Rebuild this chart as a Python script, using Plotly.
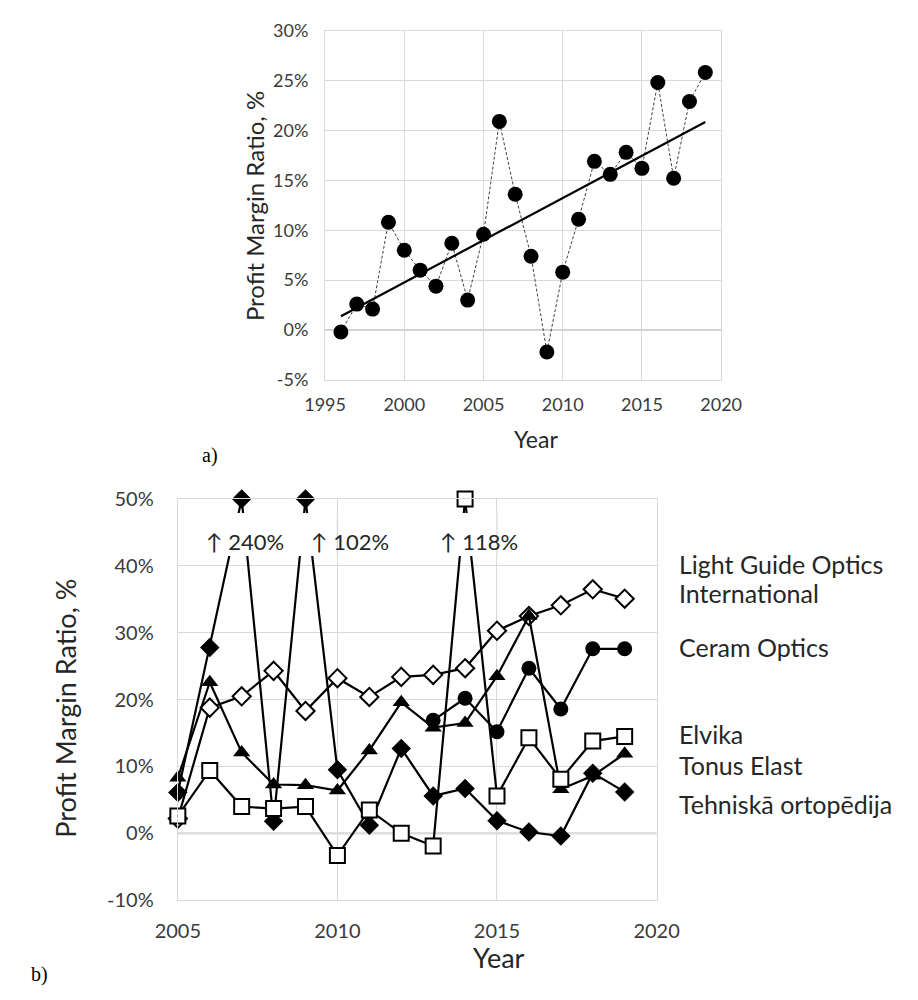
import numpy as np
import plotly.graph_objects as go

# ---------------- data: panel a ----------------
years_a = list(range(1996, 2020))
margin_a = [-0.2, 2.6, 2.1, 10.8, 8.0, 6.0, 4.4, 8.7, 3.0, 9.6, 20.9, 13.6,
            7.4, -2.2, 5.8, 11.1, 16.9, 15.6, 17.8, 16.2, 24.8, 15.2, 22.9, 25.8]
yticks_a = [-5, 0, 5, 10, 15, 20, 25, 30]
yticklabels_a = ["-5%", "0%", "5%", "10%", "15%", "20%", "25%", "30%"]

# ---------------- data: panel b ----------------
years_b = list(range(2005, 2020))
light_guide = [2.2, 18.8, 20.5, 24.3, 18.3, 23.2, 20.4, 23.4, 23.7, 24.7, 30.3, 32.5, 34.1, 36.5, 35.1]
ceram_years = list(range(2013, 2020))
ceram = [16.9, 20.2, 15.2, 24.7, 18.6, 27.6, 27.6]
elvika = [2.6, 9.4, 4.0, 3.7, 4.0, -3.3, 3.5, 0.0, -1.9, 118.0, 5.6, 14.3, 8.1, 13.8, 14.5]
tonus = [8.3, 22.6, 12.1, 7.3, 7.2, 6.4, 12.4, 19.6, 15.8, 16.5, 23.5, 32.5, 6.6, 8.6, 11.9]
tehniska = [6.1, 27.8, 240.0, 1.8, 102.0, 9.5, 1.2, 12.7, 5.6, 6.7, 1.9, 0.2, -0.4, 9.0, 6.2]
yticks_b = [-10, 0, 10, 20, 30, 40, 50]
yticklabels_b = ["-10%", "0%", "10%", "20%", "30%", "40%", "50%"]

name_lines_b = ["Light Guide Optics", "International", "Ceram Optics", "Elvika",
                "Tonus Elast", "Tehniskā ortopēdija"]
spike_labels = ["↑ 240%", "↑ 102%", "↑ 118%"]

Y_MAX_B = 50

W, H = 918, 1000
FONT = "Lato"
TXT = "#3a3a3a"
TTL = "#262626"
GRID = "#d9d9d9"


def px_x(p):
    return p / W


def px_y(p):
    return 1 - p / H


def clip(vals):
    return [min(v, Y_MAX_B) for v in vals]


fig = go.Figure()

# ---- panel a traces ----
fig.add_trace(go.Scatter(
    x=years_a, y=margin_a, mode="lines+markers",
    line=dict(color="#404040", width=1, dash="3px,2px"),
    marker=dict(symbol="circle", size=15, color="black"),
    xaxis="x", yaxis="y", showlegend=False, cliponaxis=False))

slope, intercept = np.polyfit(years_a, margin_a, 1)
trend_x = [years_a[0], years_a[-1]]
trend_y = [slope * x + intercept for x in trend_x]
fig.add_trace(go.Scatter(
    x=trend_x, y=trend_y, mode="lines",
    line=dict(color="black", width=2.2),
    xaxis="x", yaxis="y", showlegend=False))

# ---- panel b traces ----
common_line = dict(color="black", width=2.2)
fig.add_trace(go.Scatter(
    x=years_b, y=clip(light_guide), mode="lines+markers", line=common_line,
    marker=dict(symbol="diamond", size=14, color="white", line=dict(color="black", width=2)),
    xaxis="x2", yaxis="y2", showlegend=False, cliponaxis=False))
fig.add_trace(go.Scatter(
    x=years_b, y=clip(tehniska), mode="lines+markers", line=common_line,
    marker=dict(symbol="diamond", size=15, color="black"),
    xaxis="x2", yaxis="y2", showlegend=False, cliponaxis=False))
fig.add_trace(go.Scatter(
    x=years_b, y=clip(tonus), mode="lines+markers", line=common_line,
    marker=dict(symbol="triangle-up", size=15, color="black"),
    xaxis="x2", yaxis="y2", showlegend=False, cliponaxis=False))
fig.add_trace(go.Scatter(
    x=ceram_years, y=clip(ceram), mode="lines+markers", line=common_line,
    marker=dict(symbol="circle", size=15, color="black"),
    xaxis="x2", yaxis="y2", showlegend=False, cliponaxis=False))
fig.add_trace(go.Scatter(
    x=years_b, y=clip(elvika), mode="lines+markers", line=common_line,
    marker=dict(symbol="square", size=15, color="white", line=dict(color="black", width=2)),
    xaxis="x2", yaxis="y2", showlegend=False, cliponaxis=False))

axis_common = dict(showgrid=True, gridcolor=GRID, gridwidth=1.3, zeroline=False,
                   showline=True, mirror=True, linecolor=GRID, linewidth=1.3,
                   ticks="", fixedrange=True)

fig.update_layout(
    width=W, height=H, margin=dict(l=0, r=0, t=0, b=0),
    paper_bgcolor="white", plot_bgcolor="white",
    font=dict(family=FONT, color=TXT),
    xaxis=dict(domain=[px_x(318), px_x(735)], range=[1995, 2020], dtick=5,
               anchor="y", tickfont=dict(size=18, color=TXT),
               ticklabelstandoff=8, **axis_common),
    yaxis=dict(domain=[px_y(376), px_y(18)], range=[-5, 30],
               tickvals=yticks_a, ticktext=yticklabels_a, anchor="x",
               tickfont=dict(size=18, color=TXT),
               ticklabelstandoff=12, **axis_common),
    xaxis2=dict(domain=[px_x(163), px_x(667)], range=[2005, 2020], dtick=5,
                anchor="y2", tickfont=dict(size=20, color=TXT),
                ticklabelstandoff=13, **axis_common),
    yaxis2=dict(domain=[px_y(909), px_y(498)], range=[-10, Y_MAX_B],
                tickvals=yticks_b, ticktext=yticklabels_b, anchor="x2",
                tickfont=dict(size=20, color=TXT),
                ticklabelstandoff=19, **axis_common),
)

# zero lines (horizontal axis lines) slightly darker
fig.add_shape(type="line", xref="x", yref="y", x0=1995, x1=2020, y0=0, y1=0,
              line=dict(color="#bfbfbf", width=1.6), layer="below")
fig.add_shape(type="line", xref="x2", yref="y2", x0=2005, x1=2020, y0=0, y1=0,
              line=dict(color="#bfbfbf", width=1.6), layer="below")

# masks behind spike labels (hide the lines, keep grid)
gap_lo, gap_hi = 41.5, 47.9
mask_spans = [(2005.80, 2008.48), (2008.63, 2011.76), (2013.10, 2015.60)]
for x0, x1 in mask_spans:
    fig.add_shape(type="rect", xref="x2", yref="y2", x0=x0, x1=x1, y0=gap_lo, y1=gap_hi,
                  fillcolor="white", line=dict(width=0), layer="above")
for gx in (2010, 2015):
    fig.add_shape(type="line", xref="x2", yref="y2", x0=gx, x1=gx, y0=gap_lo, y1=gap_hi,
                  line=dict(color=GRID, width=1.3), layer="above")

ann = []
label_x = [2007.1, 2010.39, 2014.43]
for lx, t in zip(label_x, spike_labels):
    ann.append(dict(x=lx, y=43.7, xref="x2", yref="y2", text=t, showarrow=False,
                    xanchor="center", yanchor="middle",
                    font=dict(family=FONT, size=22, color=TTL)))


def txt(x, y, text, size, angle=0, anchor="center", family=FONT, color=TTL):
    return dict(x=px_x(x), y=px_y(y), xref="paper", yref="paper", text=text,
                textangle=angle, showarrow=False, xanchor=anchor, yanchor="middle",
                align="left", font=dict(family=family, size=size, color=color))


# axis titles
ann.append(txt(243, 198, "Profit Margin Ratio, %", 24, angle=-90))
ann.append(txt(540, 436, "Year", 23))
ann.append(txt(45, 712, "Profit Margin Ratio, %", 27, angle=-90))
ann.append(txt(501, 968, "Year", 27))

# panel labels
ann.append(txt(186, 453, "a)", 20, anchor="left", family="Liberation Serif", color="black"))
ann.append(txt(6, 985, "b)", 20, anchor="left", family="Liberation Serif", color="black"))

# series name labels on the right
label_y = [565, 594, 650, 739, 770, 810]
for nm, ly in zip(name_lines_b, label_y):
    ann.append(txt(689, ly, nm, 25, anchor="left"))

fig.update_layout(annotations=ann)
fig.write_html("out.html")
